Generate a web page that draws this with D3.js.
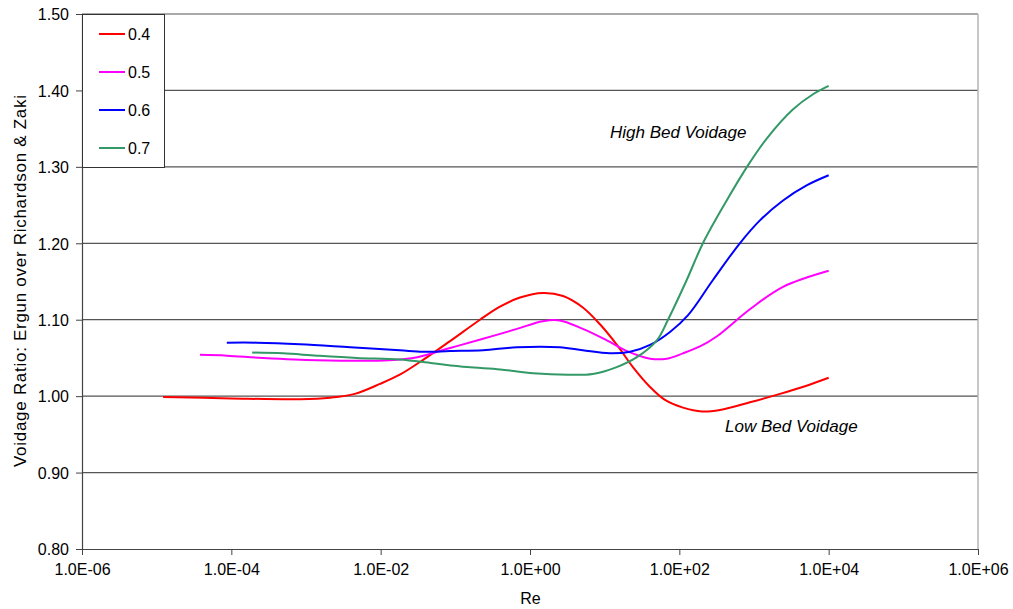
<!DOCTYPE html>
<html>
<head>
<meta charset="utf-8">
<script src="https://cdn.jsdelivr.net/npm/d3@7"></script>
<style>
  html, body { margin: 0; padding: 0; background: #fff; }
  svg { display: block; font-family: Arial, "Liberation Sans", sans-serif; }
</style>
</head>
<body>
<svg id="chart" width="1013" height="609"></svg>
<script>
// Reynolds number samples and voidage ratios for each bed voidage
const re04 = [1.22e-5, 1.0e-4, 8.3e-4, 2.1e-3, 4.5e-3, 9.8e-3, 1.8e-2, 3.4e-2, 8.5e-2, 0.214, 0.396, 0.734, 1.49, 2.77, 5.1, 8.65, 14.6, 23.9, 40.5, 64.3, 112, 201, 350, 883, 2230, 4820, 1.0e4];
const ratio04 = [0.999, 0.997, 0.996, 0.998, 1.003, 1.016, 1.028, 1.045, 1.072, 1.100, 1.117, 1.129, 1.135, 1.131, 1.116, 1.094, 1.067, 1.038, 1.012, 0.995, 0.985, 0.980, 0.982, 0.992, 1.003, 1.013, 1.024];

const re05 = [3.8e-5, 8.7e-5, 2.6e-4, 1.4e-3, 1.3e-2, 3.1e-2, 8.5e-2, 0.235, 0.67, 1.48, 2.5, 5.1, 10.7, 20, 40.7, 68, 112, 189, 316, 890, 2450, 1.0e4];
const ratio05 = [1.054, 1.053, 1.050, 1.047, 1.047, 1.051, 1.063, 1.075, 1.088, 1.098, 1.099, 1.088, 1.073, 1.059, 1.049, 1.049, 1.056, 1.065, 1.078, 1.114, 1.143, 1.164];

const re06 = [8.7e-5, 2.2e-4, 8.3e-4, 3.9e-3, 1.8e-2, 3.7e-2, 8.5e-2, 0.235, 0.67, 2.5, 5.1, 11.7, 21.9, 40.5, 75, 131, 282, 646, 1200, 2450, 5130, 1.0e4];
const ratio06 = [1.070, 1.070, 1.068, 1.064, 1.060, 1.058, 1.059, 1.060, 1.064, 1.064, 1.060, 1.056, 1.058, 1.067, 1.084, 1.106, 1.152, 1.200, 1.230, 1.256, 1.276, 1.289];

const re07 = [1.9e-4, 4.9e-4, 1.4e-3, 4.8e-3, 1.8e-2, 5.0e-2, 0.144, 0.40, 1.1, 3.2, 6.9, 14.5, 27, 50, 70.5, 123, 207, 408, 805, 1480, 3310, 6170, 1.0e4];
const ratio07 = [1.057, 1.056, 1.053, 1.050, 1.048, 1.043, 1.038, 1.035, 1.030, 1.028, 1.029, 1.038, 1.051, 1.073, 1.100, 1.150, 1.200, 1.252, 1.300, 1.337, 1.375, 1.395, 1.406];

const seriesNames = ["0.4", "0.5", "0.6", "0.7"];
const seriesColors = ["#FF0000", "#FF00FF", "#0000FF", "#339966"];

const xTickValues = [1e-6, 1e-4, 1e-2, 1e0, 1e2, 1e4, 1e6];
const xTickLabels = ["1.0E-06", "1.0E-04", "1.0E-02", "1.0E+00", "1.0E+02", "1.0E+04", "1.0E+06"];
const yTickValues = [0.8, 0.9, 1.0, 1.1, 1.2, 1.3, 1.4, 1.5];

const series = [
  { name: seriesNames[0], color: seriesColors[0], re: re04, ratio: ratio04 },
  { name: seriesNames[1], color: seriesColors[1], re: re05, ratio: ratio05 },
  { name: seriesNames[2], color: seriesColors[2], re: re06, ratio: ratio06 },
  { name: seriesNames[3], color: seriesColors[3], re: re07, ratio: ratio07 }
];

const svg = d3.select("#chart");
const plot = { left: 82, right: 978, top: 14, bottom: 549 };

const x = d3.scaleLog().domain([1e-6, 1e6]).range([plot.left, plot.right]);
const y = d3.scaleLinear().domain([0.8, 1.5]).range([plot.bottom, plot.top]);

// horizontal gridlines
svg.append("g")
  .selectAll("line")
  .data(yTickValues.filter(v => v > 0.8))
  .join("line")
  .attr("x1", plot.left).attr("x2", plot.right)
  .attr("y1", d => y(d)).attr("y2", d => y(d))
  .attr("stroke", "#555").attr("stroke-width", 1.2);

// right frame edge
svg.append("line")
  .attr("x1", plot.right).attr("x2", plot.right)
  .attr("y1", plot.top).attr("y2", plot.bottom)
  .attr("stroke", "#b4b4b4").attr("stroke-width", 1.5);

// series lines, smoothed through the sample points
const line = d3.line()
  .x(d => x(d[0]))
  .y(d => y(d[1]))
  .curve(d3.curveCatmullRom.alpha(0.5));

svg.append("g")
  .selectAll("path")
  .data(series)
  .join("path")
  .attr("d", s => line(s.re.map((r, i) => [r, s.ratio[i]])))
  .attr("fill", "none")
  .attr("stroke", s => s.color)
  .attr("stroke-width", 2);

// x axis
const xAxis = svg.append("g")
  .attr("transform", `translate(0,${plot.bottom})`)
  .call(d3.axisBottom(x).tickValues(xTickValues)
    .tickFormat((d, i) => xTickLabels[i]).tickSize(6).tickSizeOuter(0));
xAxis.select(".domain").attr("stroke", "#444").attr("stroke-width", 1.2);
xAxis.selectAll(".tick line").attr("stroke", "#444");
xAxis.selectAll(".tick text")
  .attr("y", 26).attr("dy", 0)
  .attr("font-size", 16).attr("fill", "#000")
  .attr("font-family", "Arial, 'Liberation Sans', sans-serif");

// y axis
const yAxis = svg.append("g")
  .attr("transform", `translate(${plot.left},0)`)
  .call(d3.axisLeft(y).tickValues(yTickValues)
    .tickFormat(d3.format(".2f")).tickSize(6).tickSizeOuter(0));
yAxis.select(".domain").attr("stroke", "#444").attr("stroke-width", 1.2);
yAxis.selectAll(".tick line").attr("stroke", "#444");
yAxis.selectAll(".tick text")
  .attr("x", -13).attr("dy", "0.36em")
  .attr("font-size", 16).attr("fill", "#000")
  .attr("font-family", "Arial, 'Liberation Sans', sans-serif");

// axis titles
svg.append("text")
  .attr("x", (plot.left + plot.right) / 2 + 0.5).attr("y", 604)
  .attr("text-anchor", "middle").attr("font-size", 16)
  .text("Re");

svg.append("text")
  .attr("transform", "translate(26,281) rotate(-90)")
  .attr("text-anchor", "middle").attr("font-size", 17)
  .attr("textLength", 372).attr("lengthAdjust", "spacing")
  .text("Voidage Ratio: Ergun over Richardson & Zaki");

// annotations
svg.append("text")
  .attr("x", 610).attr("y", 138)
  .attr("font-size", 17).attr("font-style", "italic")
  .text("High Bed Voidage");
svg.append("text")
  .attr("x", 725).attr("y", 432)
  .attr("font-size", 17).attr("font-style", "italic")
  .text("Low Bed Voidage");

// legend
const legend = svg.append("g");
legend.append("rect")
  .attr("x", plot.left + 0.5).attr("y", plot.top + 0.5)
  .attr("width", 82).attr("height", 153)
  .attr("fill", "#fff").attr("stroke", "#333").attr("stroke-width", 1);
const items = legend.selectAll("g.item")
  .data(series)
  .join("g").attr("class", "item")
  .attr("transform", (d, i) => `translate(0,${34 + i * 38})`);
items.append("line")
  .attr("x1", 99).attr("x2", 125).attr("y1", 0).attr("y2", 0)
  .attr("stroke", d => d.color).attr("stroke-width", 2);
items.append("text")
  .attr("x", 128).attr("y", 0).attr("dy", "0.36em")
  .attr("font-size", 16)
  .text(d => d.name);
</script>
</body>
</html>
